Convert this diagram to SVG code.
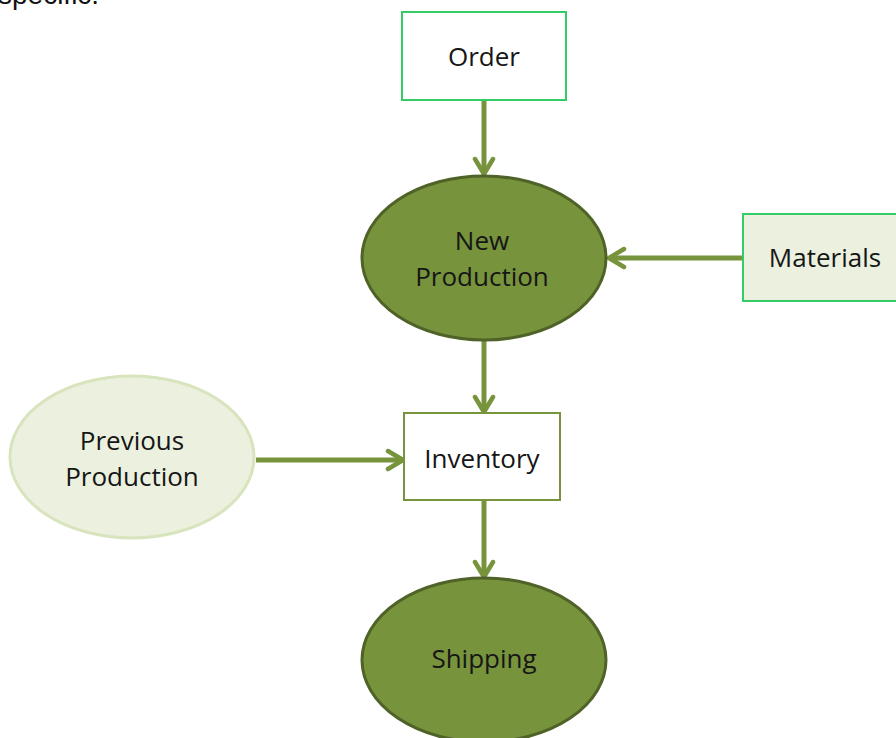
<svg xmlns="http://www.w3.org/2000/svg" width="896" height="738" viewBox="0 0 896 738">
<style>
.t{font-family:"Open Sans","Liberation Sans",sans-serif;font-size:26px;fill:#161616;text-anchor:middle}
.c{stroke:#77933c;stroke-width:5;fill:none}
.box{stroke:#33cc66;stroke-width:2}
.dark{fill:#77933c;stroke:#4f6228;stroke-width:3}
</style>
<defs>
<marker id="ah" viewBox="0 0 24 24" refX="21" refY="12" markerWidth="24" markerHeight="24" markerUnits="userSpaceOnUse" orient="auto">
<path d="M6,3 L21,12 L6,21" fill="none" stroke="#77933c" stroke-width="4.5" stroke-linecap="round" stroke-linejoin="round"/>
</marker>
</defs>
<rect width="896" height="738" fill="#ffffff"/>
<text x="-2" y="4" style="font-family:'Liberation Sans',Arial,sans-serif;font-size:28px;fill:#111">specific.</text>
<g id="connectors">
<line class="c" x1="484" y1="100" x2="484" y2="174" marker-end="url(#ah)"/>
<line class="c" x1="743" y1="258" x2="609" y2="258" marker-end="url(#ah)"/>
<line class="c" x1="484" y1="341" x2="484" y2="412" marker-end="url(#ah)"/>
<line class="c" x1="256" y1="460" x2="403" y2="460" marker-end="url(#ah)"/>
<line class="c" x1="484" y1="500" x2="484" y2="577" marker-end="url(#ah)"/>
</g>
<g id="order">
<rect class="box" x="402" y="12" width="164" height="88" fill="#ffffff"/>
<text class="t" x="484" y="66">Order</text>
</g>
<g id="new-production">
<ellipse class="dark" cx="484" cy="258" rx="122" ry="82"/>
<text class="t" x="482" y="250">New</text>
<text class="t" x="482" y="286">Production</text>
</g>
<g id="materials">
<rect class="box" x="743" y="214" width="160" height="87" fill="#ebf1de"/>
<text class="t" x="825" y="267">Materials</text>
</g>
<g id="previous-production">
<ellipse cx="132" cy="457" rx="122" ry="81" fill="#ebf1de" stroke="#d7e4bd" stroke-width="3"/>
<text class="t" x="132" y="450">Previous</text>
<text class="t" x="132" y="486">Production</text>
</g>
<g id="inventory">
<rect x="404" y="413" width="156" height="87" fill="#ffffff" stroke="#77933c" stroke-width="2"/>
<text class="t" x="482" y="468">Inventory</text>
</g>
<g id="shipping">
<ellipse class="dark" cx="484" cy="660" rx="122" ry="82"/>
<text class="t" x="484" y="668">Shipping</text>
</g>
</svg>
